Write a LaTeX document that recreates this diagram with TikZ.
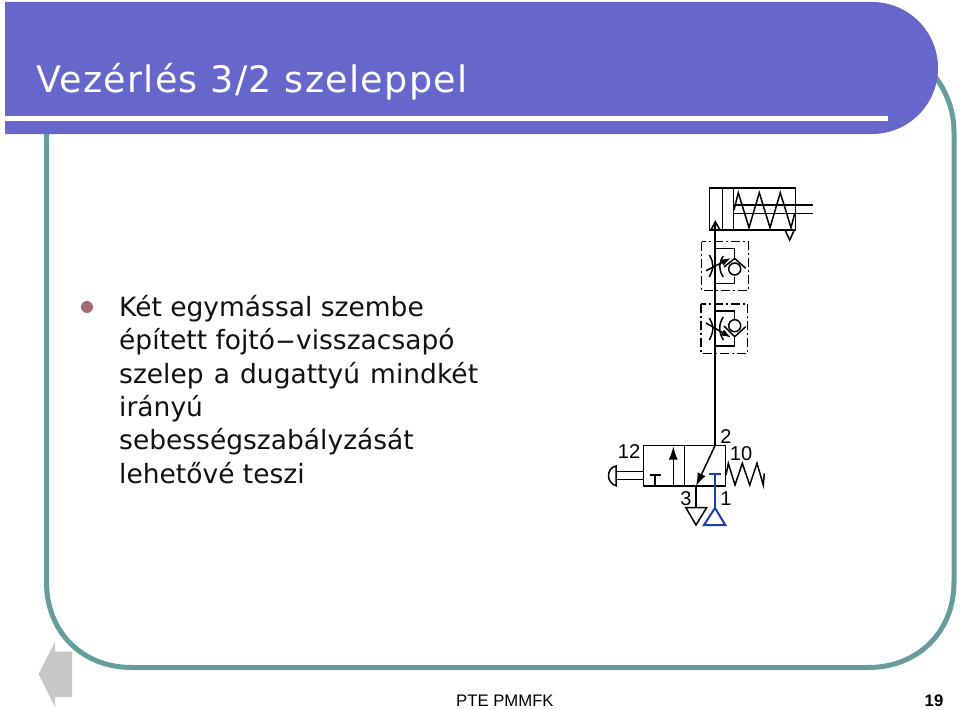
\documentclass[tikz,border=0pt]{standalone}
\usepackage{graphicx}
\usepackage{fontspec}
\setmainfont{DejaVu Sans}
\newfontfamily\helv{Liberation Sans}
\newfontfamily\titlef[LetterSpace=3.5]{DejaVu Sans}
\newfontfamily\widesp[WordSpace=1.2]{DejaVu Sans}
\usetikzlibrary{arrows.meta}
\definecolor{banner}{HTML}{6767CB}
\definecolor{teal1}{HTML}{669D9B}
\definecolor{bul}{HTML}{A06A72}
\definecolor{txt}{HTML}{111111}
\definecolor{blueline}{HTML}{1F3FA8}
\tikzset{
  sym/.style={line width=1.5pt,black,line join=miter},
  dd/.style={line width=1.5pt,black,dash pattern=on 9pt off 3pt on 2pt off 3pt},
  lab/.style={font=\helv\fontsize{20}{20}\selectfont,inner sep=0pt,text=black},
  body/.style={font=\fontsize{26.5}{33.4}\selectfont,anchor=base west,inner sep=0pt,text=txt},
  head/.style={-{Latex[length=13pt,width=9pt]}},
  smallhead/.style={-{Latex[length=10pt,width=7pt]}}
}
\begin{document}
\begin{tikzpicture}[x=1pt,y=-1pt]
\useasboundingbox (0,0) rectangle (960,709);
% frame
\draw[teal1,line width=5pt] (46.5,120) -- (46.5,582) .. controls (46.5,632) and (82,667.5) .. (132,667.5) -- (868,667.5) .. controls (918,667.5) and (954,632) .. (954,582) -- (954,132) .. controls (954,108) and (945,88) .. (930,70);
% banner
\fill[banner] (5,2) -- (872,2) arc[start angle=-90,end angle=90,radius=66] -- (5,134) -- cycle;
\fill[white] (5,116) rectangle (888,120.5);
\node[anchor=base west,inner sep=0pt,text=white,font=\titlef\fontsize{36.5}{36.5}\selectfont] (title) at (36,92.5) {Vezérlés 3/2 szeleppel};
% bullet
\fill[bul] (87,307) circle[radius=6];
\node[body] (l1) at (119,316) {Két egymással szembe};
\node[body] (l2) at (119,349.5) {épített fojtó\scalebox{2.2}[1]{-}visszacsapó};
\node[body] (l3) at (119,383) {\widesp szelep a dugattyú mindkét};
\node[body] (l4) at (119,416) {irányú};
\node[body] (l5) at (119,449.5) {sebességszabályzását};
\node[body] (l6) at (119,483) {lehetővé teszi};
% cylinder
\draw[sym] (709.5,188) rectangle (795.5,230);
\draw[sym] (722.7,188) -- (722.7,230);
\draw[sym] (733.7,188) -- (733.7,230);
\draw[sym] (733.7,205) -- (813,205) (733.7,213.3) -- (813,213.3);
\draw[sym] (734,210) -- (738.3,192.7) -- (749,227.7) -- (759.3,192.7) -- (770,227.7) -- (780.3,192.7) -- (791,227.7) -- (794.7,213.3);
\draw[sym] (785,230) -- (789.7,240) -- (794.3,230);
\draw[sym] (711,230) -- (715.3,221.7) -- (720,230);
% main line
\coordinate (mtop) at (715,222);
\coordinate (mbot) at (715,445.7);
\draw[sym] (mtop) -- (mbot);
% check-throttle 1
\draw[dd] (701.7,241.7) rectangle (748.3,290.7);
\draw[sym] (715,248.3) -- (734.7,248.3) -- (734.7,258.5);
\draw[sym] (715,283.3) -- (734.7,283.3) -- (734.7,276.5);
\draw[sym] (734.7,269) circle[radius=6];
\draw[sym] (724,267) -- (734.7,258.5) -- (745.7,268.3);
\draw[sym] (709.3,255) .. controls (714,263) and (714,268) .. (709.3,277);
\draw[sym] (723.3,256) .. controls (718.5,263) and (718.5,270) .. (723.3,277);
\draw[sym,smallhead] (706,270.7) -- (731,258);
% check-throttle 2
\draw[dd] (701,304) rectangle (747.7,353.3);
\draw[sym] (715,311) -- (734.7,311) -- (734.7,318.5);
\draw[sym] (715,346) -- (734.7,346) -- (734.7,336.7);
\draw[sym] (734.7,325.7) circle[radius=6];
\draw[sym] (724,326) -- (734.7,336.7) -- (745.7,326.7);
\draw[sym] (709.3,318) .. controls (714,326) and (714,331) .. (709.3,340);
\draw[sym] (723.3,317) .. controls (718.5,324) and (718.5,332) .. (723.3,340);
\draw[sym,smallhead] (706,323) -- (731,337.5);
% valve
\draw[sym] (643.3,445.7) rectangle (725.7,486);
\draw[sym] (684.3,445.7) -- (684.3,486);
\draw[sym,head] (673.3,486) -- (673.3,446.5);
\draw[sym] (655,486) -- (655,475) (649.7,475) -- (660.7,475);
\draw[sym,head] (715,445.7) -- (696,486);
\draw[sym] (696,486) -- (696,507);
\draw[sym] (685.7,507.5) -- (706.7,507.5) -- (696,525) -- cycle;
\draw[blueline,line width=1.8pt] (715,474.3) -- (715,508) (709,474.3) -- (720.7,474.3);
\draw[blueline,line width=2pt,line join=miter] (715,508) -- (725.3,525) -- (704,525) -- cycle;
% valve spring
\draw[sym] (726,475) -- (728.3,463.3) -- (735,485) -- (742.3,463.3) -- (749.7,485) -- (757,463.3) -- (763.3,485) -- (764.3,473.3);
% push button
\draw[sym] (616,471.7) -- (643.3,471.7) (616,479.3) -- (643.3,479.3);
\draw[sym] (616,466) .. controls (606,468) and (606,483) .. (616,485.7) -- cycle;
% labels
\node[lab] (n12) at (629,451.5) {12};
\node[lab] (n2) at (726,437) {2};
\node[lab] (n10) at (741,454) {10};
\node[lab] (n3) at (686,498.5) {3};
\node[lab] (n1) at (726,498.5) {1};
% nav arrow
\fill[black!22] (38.5,674) -- (55,642) -- (55,651.5) -- (72,651.5) -- (72,697) -- (55,697) -- (55,707) -- cycle;
% footer
\node[font=\helv\fontsize{16.7}{17}\selectfont,anchor=base west,inner sep=0pt] (foot) at (456,706) {PTE PMMFK};
\node[font=\helv\bfseries\fontsize{16.7}{17}\selectfont,anchor=base,inner sep=0pt] (pg) at (934,706) {19};
\end{tikzpicture}
\end{document}
